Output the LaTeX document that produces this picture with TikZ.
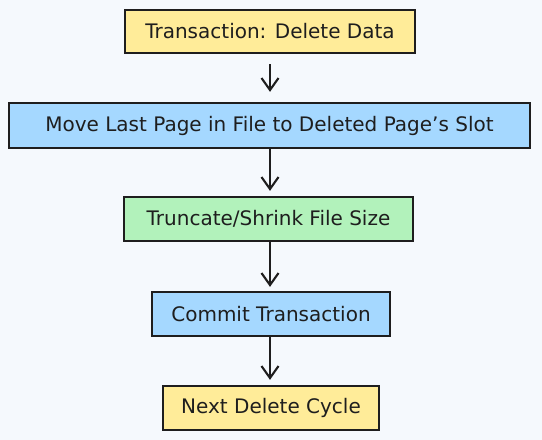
\documentclass[tikz,border=0pt]{standalone}
\usepackage{fontspec}
\setmainfont{DejaVu Sans}
\usetikzlibrary{arrows.meta}
\definecolor{bg}{HTML}{F5F9FD}
\definecolor{ink}{HTML}{1E1E1E}
\definecolor{fyellow}{HTML}{FFEC99}
\definecolor{fblue}{HTML}{A5D8FF}
\definecolor{fgreen}{HTML}{B2F2BB}
\tikzset{
  boxstyle/.style={draw=ink, line width=2.3pt, rectangle, inner sep=0pt,
    font=\fontsize{20}{24}\selectfont, text=ink},
  flow/.style={draw=ink, line width=2.3pt, -{Straight Barb[length=12pt,width=17pt,line width=2.1pt]}}
}
\begin{document}
\begin{tikzpicture}[x=1pt,y=-1pt]
\useasboundingbox[fill=bg] (0,0) rectangle (542,440);
\node[boxstyle, fill=fyellow, minimum width=290pt, minimum height=43pt] (b1) at (270,31.5) {Transaction: Delete Data};
\node[boxstyle, fill=fblue, minimum width=521pt, minimum height=45pt] (b2) at (269.5,125.5) {Move Last Page in File to Deleted Page's Slot};
\node[boxstyle, fill=fgreen, minimum width=289pt, minimum height=44pt] (b3) at (268.5,219) {Truncate/Shrink File Size};
\node[boxstyle, fill=fblue, minimum width=238pt, minimum height=44pt] (b4) at (271,314) {Commit Transaction};
\node[boxstyle, fill=fyellow, minimum width=216pt, minimum height=44pt] (b5) at (271,408) {Next Delete Cycle};
\draw[flow, shorten <=10pt, shorten >=10pt] (b1.south) -- (b1.south |- b2.north);
\draw[flow, shorten >=5pt] (b2.south -| b1.south) -- (b1.south |- b3.north);
\draw[flow, shorten >=4pt] (b3.south -| b1.south) -- (b1.south |- b4.north);
\draw[flow, shorten >=5pt] (b4.south -| b1.south) -- (b1.south |- b5.north);
\end{tikzpicture}
\end{document}
